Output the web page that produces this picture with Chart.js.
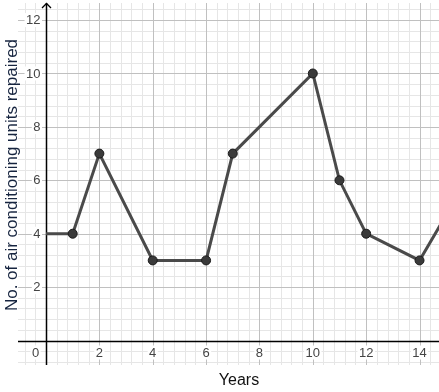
<!DOCTYPE html>
<html>
<head>
<meta charset="utf-8">
<script src="https://cdn.jsdelivr.net/npm/chart.js@4.4.1/dist/chart.umd.min.js"></script>
<style>
  body{margin:0;background:#fff;}
  #wrap{width:439px;height:392px;position:relative;}
</style>
</head>
<body>
<div id="wrap"><canvas id="myChart"></canvas></div>
<script>
// datos
const years = [0, 1, 2, 4, 6, 7, 10, 11, 12, 14, 15]
const repaired = [4, 4, 7, 3, 3, 7, 10, 6, 4, 3, 4.7]
const xTicks = [0, 2, 4, 6, 8, 10, 12, 14]
const yTicks = [2, 4, 6, 8, 10, 12]
const xTitle = 'Years'
const yTitle = 'No. of air conditioning units repaired'

const puntos = years.map((x, i) => ({x: x, y: repaired[i]}))
// sin marcador en el primer y ultimo punto
const radios = years.map((x, i) => (i === 0 || i === years.length - 1) ? 0 : 4.5)

const cuadricula = {
  id: 'cuadricula',
  beforeDatasetsDraw(chart) {
    const ctx = chart.ctx
    const a = chart.chartArea
    const sx = chart.scales.x, sy = chart.scales.y
    ctx.save()
    // lineas menores cada 0.4
    const lineas = (paso, color) => {
      ctx.strokeStyle = color
      ctx.lineWidth = 1
      ctx.beginPath()
      for (let v = Math.ceil(sx.min / paso) * paso; v <= sx.max; v += paso) {
        const p = Math.round(sx.getPixelForValue(v)) + 0.5
        ctx.moveTo(p, a.top); ctx.lineTo(p, a.bottom)
      }
      for (let v = Math.ceil(sy.min / paso) * paso; v <= sy.max; v += paso) {
        const p = Math.round(sy.getPixelForValue(v)) + 0.5
        ctx.moveTo(a.left, p); ctx.lineTo(a.right, p)
      }
      ctx.stroke()
    }
    lineas(0.4, '#e6e6e6')
    lineas(2, '#c0c0c0')

    // ejes
    const x0 = Math.round(sx.getPixelForValue(0)) + 0.5
    const y0 = Math.round(sy.getPixelForValue(0)) + 0.5
    ctx.strokeStyle = '#000'
    ctx.lineWidth = 1.5
    ctx.beginPath()
    ctx.moveTo(x0, a.top); ctx.lineTo(x0, a.bottom)
    ctx.moveTo(a.left, y0); ctx.lineTo(a.right, y0)
    ctx.stroke()
    // flecha
    ctx.lineWidth = 1.3
    ctx.beginPath()
    ctx.moveTo(x0 - 4.5, a.top + 5); ctx.lineTo(x0, a.top + 0.5); ctx.lineTo(x0 + 4.5, a.top + 5)
    ctx.stroke()

    // etiquetas
    ctx.font = '13px "Liberation Sans", Arial, sans-serif'
    ctx.textBaseline = 'middle'
    const etiqueta = (txt, cx, cy, align) => {
      const w = ctx.measureText(txt).width
      const left = align === 'right' ? cx - w : cx - w / 2
      ctx.fillStyle = '#fff'
      ctx.fillRect(left - 1.5, cy - 7, w + 3, 14)
      ctx.fillStyle = '#444'
      ctx.textAlign = 'left'
      ctx.fillText(txt, left, cy + 0.5)
    }
    yTicks.forEach(v => etiqueta(String(v), x0 - 6, sy.getPixelForValue(v), 'right'))
    xTicks.forEach(v => {
      const cx = v === 0 ? x0 - 11 : sx.getPixelForValue(v)
      etiqueta(String(v), cx, y0 + 11, 'center')
    })
    ctx.restore()
  },
  afterDraw(chart) {
    const ctx = chart.ctx
    const a = chart.chartArea
    ctx.save()
    ctx.fillStyle = '#111'
    ctx.font = '16px "Liberation Sans", Arial, sans-serif'
    ctx.textAlign = 'center'
    ctx.textBaseline = 'middle'
    ctx.fillText(xTitle, 239, 381)
    ctx.translate(12, 175)
    ctx.rotate(-Math.PI / 2)
    ctx.fillStyle = '#16243f'
    ctx.font = '17px "Liberation Sans", Arial, sans-serif'
    ctx.fillText(yTitle, 0, 0)
    ctx.restore()
  }
}

const $ctx = document.getElementById('myChart').getContext('2d')
const config = {
  type: 'line',
  data: {
    datasets: [{
      data: puntos,
      borderColor: '#4a4a4a',
      borderWidth: 3,
      pointRadius: radios,
      pointBackgroundColor: '#3a3a3a',
      pointBorderColor: '#1a1a1a',
      pointBorderWidth: 1,
      tension: 0
    }]
  },
  options: {
    responsive: true,
    maintainAspectRatio: false,
    animation: false,
    layout: {padding: {left: 18, top: 3, right: 0, bottom: 27}},
    plugins: {legend: {display: false}, tooltip: {enabled: false}},
    scales: {
      x: {type: 'linear', min: -1.05, max: 14.73, display: false},
      y: {type: 'linear', min: -0.917, max: 12.64, display: false}
    }
  },
  plugins: [cuadricula]
}
var mychar = new Chart($ctx, config)
</script>
</body>
</html>
